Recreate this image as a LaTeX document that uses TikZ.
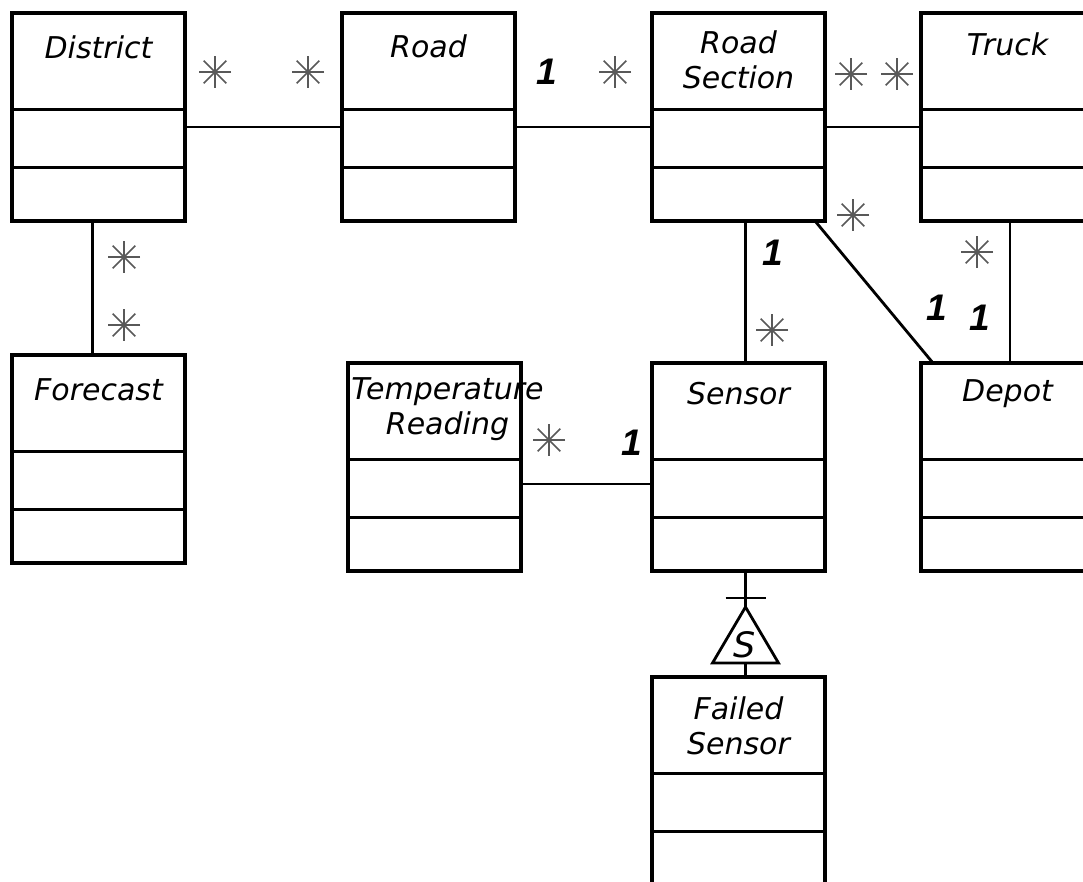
\documentclass[tikz,border=0pt]{standalone}
\usepackage{fontspec}
\setmainfont{DejaVu Sans}
\newfontfamily\numfont{Liberation Sans}
\begin{document}
\begin{tikzpicture}[x=1pt,y=-1pt,
  cls/.style={draw, line width=3.2pt, minimum width=173pt, minimum height=208pt, anchor=north west, inner sep=0pt, outer sep=0pt},
  div/.style={line width=3pt},
  conn/.style={line width=2.8pt},
  title/.style={font=\fontsize{30}{35}\selectfont\itshape, align=center, inner sep=0pt},
  one/.style={font=\numfont\fontsize{37}{40}\selectfont\bfseries\itshape, inner sep=0pt},
  mstar/.style={circle, inner sep=0pt, minimum size=34pt,
    path picture={\foreach \a in {0,45,90,135}{\draw[line width=1.6pt, black!65]
      ([shift={(\a:16pt)}]path picture bounding box.center) -- ([shift={(\a+180:16pt)}]path picture bounding box.center);}}}
]
\useasboundingbox (0,0) rectangle (1083,881);
\clip (0,0) rectangle (1083,881);

% class boxes
\node[cls] (district) at (12,13) {};
\node[cls] (road) at (342,13) {};
\node[cls] (roadsec) at (652,13) {};
\node[cls] (truck) at (921,13) {};
\node[cls] (forecast) at (12,355) {};
\node[cls] (temp) at (348,363) {};
\node[cls] (sensor) at (652,363) {};
\node[cls] (depot) at (921,363) {};
\node[cls] (failed) at (652,677) {};

\foreach \n in {district,road,roadsec,truck,forecast,temp,sensor,depot,failed}{
  \draw[div] ([yshift=-96pt]\n.north west) -- ([yshift=-96pt]\n.north east);
  \draw[div] ([yshift=-154pt]\n.north west) -- ([yshift=-154pt]\n.north east);
}

% titles
\node[title] (district-t) at ([yshift=-34pt]district.north) {District};
\node[title] (road-t) at ([yshift=-33pt]road.north) {Road};
\node[title] (roadsec-t) at ([yshift=-47pt]roadsec.north) {Road\\Section};
\node[title] (truck-t) at ([yshift=-31pt]truck.north) {Truck};
\node[title] (forecast-t) at ([yshift=-35pt]forecast.north) {Forecast};
\node[title] (temp-t) at ([xshift=13pt,yshift=-46pt]temp.north) {Temperature\\Reading};
\node[title] (sensor-t) at ([yshift=-31pt]sensor.north) {Sensor};
\node[title] (depot-t) at ([yshift=-31pt]depot.north) {Depot};
\node[title] (failed-t) at ([yshift=-49pt]failed.north) {Failed\\Sensor};

% connectors
\draw[conn] ([yshift=-10pt]district.east) -- ([yshift=-10pt]road.west);
\draw[conn] ([yshift=-10pt]road.east) -- ([yshift=-10pt]roadsec.west);
\draw[conn] ([yshift=-10pt]roadsec.east) -- ([yshift=-10pt]truck.west);
\draw[conn] ([xshift=-6pt]district.south) -- ([xshift=-6pt]forecast.north);
\draw[conn] ([xshift=7pt]roadsec.south) -- ([xshift=7pt]sensor.north);
\draw[conn] ([xshift=-10pt]roadsec.south east) -- ([xshift=12pt]depot.north west);
\draw[conn] ([xshift=2.5pt]truck.south) -- ([xshift=2.5pt]depot.north);
\draw[conn] ([yshift=-17pt]temp.east) -- ([yshift=-17pt]sensor.west);

% generalization
\coordinate (gbar) at (745.5,598);
\coordinate (gtop) at (745.5,607);
\coordinate (gbl) at (712.5,663);
\coordinate (gbr) at (778.5,663);
\coordinate (gbase) at (745.5,663);
\draw[conn] (gtop |- sensor.south) -- (gtop);
\draw[conn] ([xshift=-20pt]gbar) -- ([xshift=20pt]gbar);
\draw[conn, line join=miter] (gtop) -- (gbl) -- (gbr) -- cycle;
\draw[conn] (gbase) -- (gbase |- failed.north);
\node[font=\fontsize{35}{36}\selectfont\itshape, inner sep=0pt] (gen-s) at (745,645) {S};

% multiplicities
\node[mstar] (m1) at (215,72) {};
\node[mstar] (m2) at (308,72) {};
\node[one] (m3) at (547,72) {1};
\node[mstar] (m4) at (615,72) {};
\node[mstar] (m5) at (851,74) {};
\node[mstar] (m6) at (897,74) {};
\node[mstar] (m7) at (124,257) {};
\node[mstar] (m8) at (124,325) {};
\node[one] (m9) at (773,253) {1};
\node[mstar] (m10) at (772,330) {};
\node[mstar] (m11) at (853,215) {};
\node[one] (m12) at (937,308) {1};
\node[mstar] (m13) at (977,252) {};
\node[one] (m14) at (980,318) {1};
\node[mstar] (m15) at (549,440) {};
\node[one] (m16) at (632,443) {1};
\end{tikzpicture}
\end{document}
